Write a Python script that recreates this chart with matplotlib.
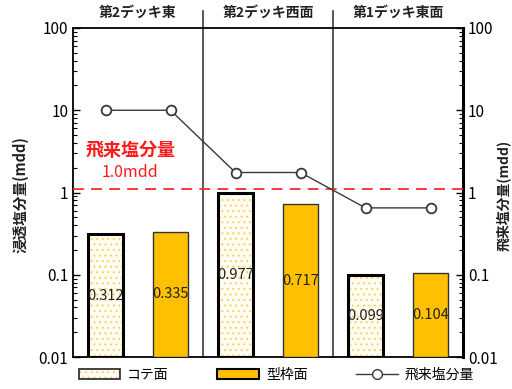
import numpy as np
import matplotlib.pyplot as plt
from matplotlib.patches import Patch
from matplotlib.lines import Line2D
from matplotlib.ticker import LogLocator, FixedLocator, FixedFormatter

plt.rcParams['font.family'] = ['Noto Sans CJK JP', 'DejaVu Sans']
plt.rcParams['hatch.linewidth'] = 0.7

# data
groups = ['第2デッキ東', '第2デッキ西面', '第1デッキ東面']
kote = [0.312, 0.977, 0.099]      # コテ面
kata = [0.335, 0.717, 0.104]      # 型枠面
hirai = [10.0, 10.0, 1.75, 1.75, 0.65, 0.65]   # 飛来塩分量
limit_val = 1.1
tick_vals = [0.01, 0.1, 1, 10, 100]
tick_labels = ['0.01', '0.1', '1', '10', '100']

orange = '#FFC000'
dot = '#FFCF5A'
cream = '#FFFCF3'
dark = '#3a3a3a'
base = 0.01

fig = plt.figure(figsize=(5.12, 3.89), dpi=100)
ax = fig.add_axes([73/512, 32/389, 390/512, 329/389])

x_kote = np.arange(len(groups)) * 2
x_kata = x_kote + 1
w = 0.53
h_kote = np.array(kote) - base
h_kata = np.array(kata) - base

# コテ面: dotted fill then black frame on top
ax.bar(x_kote, h_kote, w, bottom=base, color=cream, edgecolor=dot,
       hatch='...', linewidth=0, zorder=2)
ax.bar(x_kote, h_kote, w, bottom=base, fill=False, edgecolor='black',
       linewidth=2.2, zorder=3)
ax.bar(x_kata, h_kata, w, bottom=base, color=orange, edgecolor='#333333',
       linewidth=1.0, zorder=3)

# value labels at the middle of each bar (log scale)
for xs, vals in [(x_kote, kote), (x_kata, kata)]:
    for xi, v in zip(xs, vals):
        ax.text(xi, np.sqrt(v * base), '%.3f' % v, ha='center', va='center',
                fontsize=10.5, color='#222222', zorder=5)

# 飛来塩分量
xl = np.arange(len(hirai))
ax.plot(xl, hirai, '-o', color=dark, lw=1.0, markersize=7,
        markerfacecolor='white', markeredgecolor=dark, markeredgewidth=1.3,
        zorder=6)

ax.axhline(limit_val, color='#ff2a2a', lw=1.3, ls=(0, (6, 4)), zorder=4)
ax.text(0.38, 3.2, '飛来塩分量', color='#ff1a1a', fontsize=13, fontweight='bold',
        ha='center', va='center')
ax.text(0.38, 1.75, '1.0mdd', color='#ff1a1a', fontsize=11.5,
        ha='center', va='center')

ax.set_yscale('log')
ax.set_ylim(0.01, 100)
ax.set_xlim(-0.5, 5.5)
ax.set_xticks([])

# group dividers reaching above the frame
for xd in [1.5, 3.5]:
    ax.plot([xd, xd], [0.01, 160], color=dark, lw=1.2, clip_on=False, zorder=1)
for i, g in enumerate(groups):
    ax.text(2 * i + 0.5, 125, g, ha='center', va='bottom', fontsize=10,
            fontweight='bold', color='#222222')

# ticks inward on both sides
ax.yaxis.set_major_locator(FixedLocator(tick_vals))
ax.yaxis.set_major_formatter(FixedFormatter(tick_labels))
ax.yaxis.set_minor_locator(LogLocator(base=10, subs=np.arange(2, 10)))
ax.tick_params(axis='y', which='both', direction='in', labelsize=11,
               left=True, right=True, labelright=True)
ax.tick_params(axis='y', which='major', length=5, width=1)
ax.tick_params(axis='y', which='minor', length=3, width=0.8)
ax.yaxis.set_minor_formatter(plt.NullFormatter())

for side in ['left', 'top', 'bottom']:
    ax.spines[side].set_linewidth(1.3)
ax.spines['right'].set_linewidth(2.2)

fig.text(20/512, 1 - 195/389, '浸透塩分量(mdd)', rotation=90, ha='center',
         va='center', fontsize=10.5, fontweight='bold', color='#222222')
fig.text(504/512, 1 - 195/389, '飛来塩分量(mdd)', rotation=90, ha='center',
         va='center', fontsize=10, fontweight='bold', color='#222222')

kote_handle = (Patch(facecolor=cream, edgecolor=dot, hatch='...', linewidth=0),
               Patch(fill=False, edgecolor='#222222', linewidth=1.2))
handles = [
    kote_handle,
    Patch(facecolor=orange, edgecolor='black', linewidth=1.5),
    Line2D([], [], color=dark, marker='o', markerfacecolor='white',
           markeredgecolor=dark, markersize=7, lw=1.0),
]
fig.legend(handles, ['コテ面', '型枠面', '飛来塩分量'], ncol=3, frameon=False,
           loc='center', bbox_to_anchor=(0.54, 14/389), fontsize=10,
           handlelength=3, columnspacing=3.5, handletextpad=0.5)

fig.savefig('out.png', dpi=100)
